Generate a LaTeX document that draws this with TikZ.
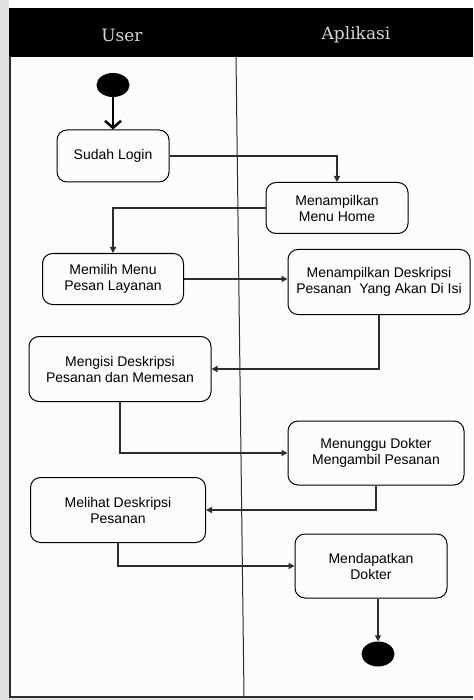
\documentclass[tikz,border=0pt]{standalone}
\usepackage{fontspec}
\setmainfont{Liberation Sans}
\newfontfamily\headfont{DejaVu Serif}
\usetikzlibrary{arrows.meta,shapes.geometric}

\definecolor{edgegray}{RGB}{225,225,225}
\definecolor{paper}{RGB}{253,252,250}
\definecolor{headtext}{RGB}{215,215,215}
\definecolor{linegray}{RGB}{45,45,45}

\begin{document}
\begin{tikzpicture}[x=1pt,y=-1pt,
    action/.style={draw=black,line width=1pt,rounded corners=10pt,fill=paper,align=center,
      font=\fontsize{14}{16}\selectfont,inner sep=0pt},
    flow/.style={draw=linegray,line width=1.3pt,-{Triangle[length=6pt,width=6pt]}},
    lane/.style={font=\headfont\fontsize{17}{20}\selectfont,text=headtext}]
        \useasboundingbox (0,0) rectangle (473,700);
        % Background, swimlanes
        \fill[edgegray] (0,0) rectangle (473,700);
        \fill[white] (9,0) rectangle (473,8);
        \fill[paper] (9,57) rectangle (473,697);
        \fill[black] (9,8) rectangle (473,57);
        \draw[line width=1.8pt,linegray] (10,57) -- (10,697) -- (473,697);
        \draw[line width=1pt,linegray] (236,57) -- (244,697);
        \node[lane] (user) at (122,35) {User};
        \node[lane] (app) at (356,35) {Aplikasi};
        % Start, end
        \node[ellipse,fill=black,minimum width=33pt,minimum height=24pt,inner sep=0pt]
          (start) at (113,85) {};
        \node[ellipse,fill=black,minimum width=33pt,minimum height=25pt,inner sep=0pt]
          (end) at (378,654) {};
        % Actions
        \node[action,minimum width=112pt,minimum height=52pt] (login) at (113,156) {Sudah Login};
        \node[action,minimum width=142pt,minimum height=51pt] (home) at (337,208)
          {Menampilkan\\Menu Home};
        \node[action,minimum width=141pt,minimum height=51pt] (pilih) at (113,279)
          {Memilih Menu\\Pesan Layanan};
        \node[action,minimum width=182pt,minimum height=65pt] (deskripsi) at (379,282)
          {Menampilkan Deskripsi\\Pesanan\ \ Yang Akan Di Isi};
        \node[action,minimum width=182pt,minimum height=65pt] (isi) at (120,369)
          {Mengisi Deskripsi\\Pesanan dan Memesan};
        \node[action,minimum width=176pt,minimum height=64pt] (tunggu) at (376,453)
          {Menunggu Dokter\\Mengambil Pesanan};
        \node[action,minimum width=175pt,minimum height=65pt] (lihat) at (118,510)
          {Melihat Deskripsi\\Pesanan};
        \node[action,minimum width=152pt,minimum height=64pt] (dokter) at (371,566)
          {Mendapatkan\\Dokter};
        % Flow
        \draw[line width=2.5pt,-{Straight Barb[length=7pt,width=16pt]}] (start) -- (login);
        \draw[flow] (login.east) -| (home.north);
        \draw[flow] (home.west) -| (pilih.north);
        \draw[flow] (pilih.east) -- (pilih.east -| deskripsi.west);
        \draw[flow] (deskripsi.south) |- (isi.east);
        \draw[flow] (isi.south) |- (tunggu.west);
        \draw[flow] (tunggu.south) |- (lihat.east);
        \draw[flow] (lihat.south) |- (dokter.west);
        \draw[flow] (end |- dokter.south) -- (end);
\end{tikzpicture}
\end{document}
